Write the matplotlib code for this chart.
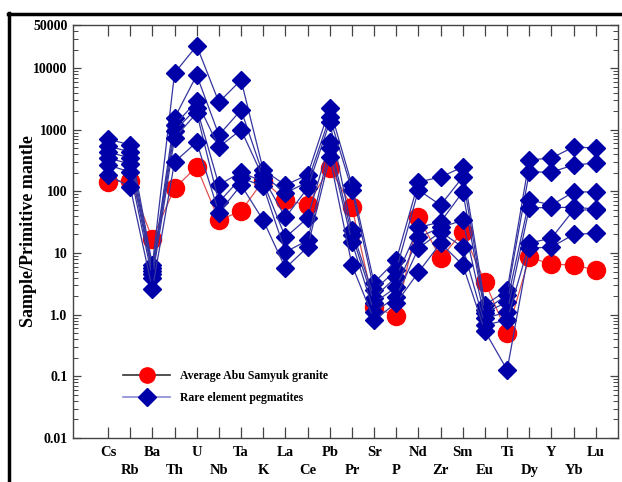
import matplotlib
matplotlib.use("Agg")
import matplotlib.pyplot as plt
from matplotlib.lines import Line2D
from matplotlib.ticker import LogLocator, NullFormatter

plt.rcParams['font.family'] = ['Liberation Serif', 'DejaVu Serif']
plt.rcParams['font.weight'] = 'bold'

# Primitive-mantle normalised spider diagram
elementos = ["Cs", "Rb", "Ba", "Th", "U", "Nb", "Ta", "K", "La", "Ce", "Pb", "Pr",
             "Sr", "P", "Nd", "Zr", "Sm", "Eu", "Ti", "Dy", "Y", "Yb", "Lu"]

granito = [142, 150, 17, 113, 249, 34, 48, 150, 72, 60, 240, 56,
           1.33, 0.95, 38, 8.3, 22, 3.4, 0.50, 8.5, 6.6, 6.4, 5.3]

peg_1 = [710, 566, 6.4, 8300, 23000, 2800, 6400, 222, 127, 185, 2250, 127,
         3.3, 7.7, 142, 171, 249, 1.44, 2.5, 323, 348, 525, 506]
peg_2 = [545, 436, 5.7, 1550, 7700, 820, 2090, 185, 94, 142, 1610, 105,
         2.5, 5.3, 105, 60, 171, 1.19, 2.09, 206, 206, 268, 289]
peg_3 = [436, 348, 5.1, 1190, 2900, 525, 1000, 165, 38, 113, 1340, 23.7,
         1.9, 4.1, 26, 32, 98, 1.07, 1.61, 73, 60, 98, 98]
peg_4 = [348, 278, 4.6, 950, 2250, 127, 206, 142, 18, 37, 630, 19.6,
         1.55, 2.8, 18, 26, 34, 0.88, 1.1, 54, 55, 55, 52]
peg_5 = [268, 206, 3.9, 735, 1870, 67, 165, 122, 10.4, 16, 506, 15,
         1.1, 1.94, 12, 22, 12.5, 0.68, 0.82, 14.5, 17.5, 50, 50]
peg_6 = [185, 118, 2.6, 300, 630, 45, 127, 34, 5.7, 12.5, 361, 6.4,
         0.82, 1.55, 4.9, 14.5, 6.4, 0.54, 0.127, 12, 12.5, 20, 21]

y_ticks = [0.01, 0.1, 1, 10, 100, 1000, 10000, 50000]
y_labels = ["0.01", "0.1", "1.0", "10", "100", "1000", "10000", "50000"]

fig = plt.figure(figsize=(6.22, 4.82), dpi=100)
ax = fig.add_axes([73 / 622, 1 - 438 / 482, 545 / 622, 413 / 482])

x = list(range(1, len(elementos) + 1))

ax.plot(x, granito, color="#e05050", lw=0.9, marker="o", ms=13,
        markerfacecolor="#ff0000", markeredgecolor="#ff0000", zorder=2)
for peg in [peg_1, peg_2, peg_3, peg_4, peg_5, peg_6]:
    ax.plot(x, peg, color="#3535a0", lw=0.9, marker="D", ms=9,
            markerfacecolor="#0000a8", markeredgecolor="#0000a8", zorder=3)

ax.set_yscale("log")
ax.set_ylim(0.01, 50000)
ax.set_xlim(-0.58, 24.0)

ax.set_yticks(y_ticks)
ax.set_yticklabels(y_labels, fontsize=10, fontweight="bold")
ax.yaxis.set_minor_locator(LogLocator(base=10, subs=range(2, 10), numticks=20))
ax.yaxis.set_minor_formatter(NullFormatter())
ax.tick_params(axis="y", which="major", direction="in", length=6, width=0.9,
               left=True, right=True, pad=4, colors="#444444", labelcolor="black")
ax.tick_params(axis="y", which="minor", direction="in", length=3.5, width=0.7,
               left=True, right=True, colors="#444444")

ax.set_xticks(x)
ax.set_xticklabels([])
ax.tick_params(axis="x", which="major", direction="in", length=8, width=0.9,
               top=True, bottom=True, colors="#444444")
for i, nombre in enumerate(elementos):
    fila = -0.036 if i % 2 == 0 else -0.078
    ax.text(x[i], fila, nombre, transform=ax.get_xaxis_transform(),
            ha="center", va="center", fontsize=10.5, fontweight="bold")

for s in ax.spines.values():
    s.set_color("#444444")
    s.set_linewidth(1.0)

ax.set_ylabel("Sample/Primitive mantle", fontsize=13, fontweight="bold")
ax.yaxis.set_label_coords(-0.066, 0.5)

handles = [
    Line2D([], [], color="#333333", lw=1.2, marker="o", ms=11,
           markerfacecolor="#ff0000", markeredgecolor="#ff0000"),
    Line2D([], [], color="#8888d8", lw=1.2, marker="D", ms=9,
           markerfacecolor="#0000a8", markeredgecolor="#0000a8"),
]
ax.legend(handles, ["Average Abu Samyuk granite", "Rare element pegmatites"],
          loc="upper left", bbox_to_anchor=(0.092, 0.165), frameon=False,
          prop={"family": "Liberation Serif", "weight": "bold", "size": 8.5},
          handlelength=4.0, handletextpad=0.85, labelspacing=0.85,
          borderpad=0, borderaxespad=0)

# page border (top and left)
fig.add_artist(Line2D([8 / 622, 1.0], [1 - 14 / 482, 1 - 14 / 482],
                      transform=fig.transFigure, color="black", lw=2.5))
fig.add_artist(Line2D([9 / 622, 9 / 622], [0.0, 1 - 13 / 482],
                      transform=fig.transFigure, color="black", lw=2.5))

fig.savefig("out.png", dpi=100)
